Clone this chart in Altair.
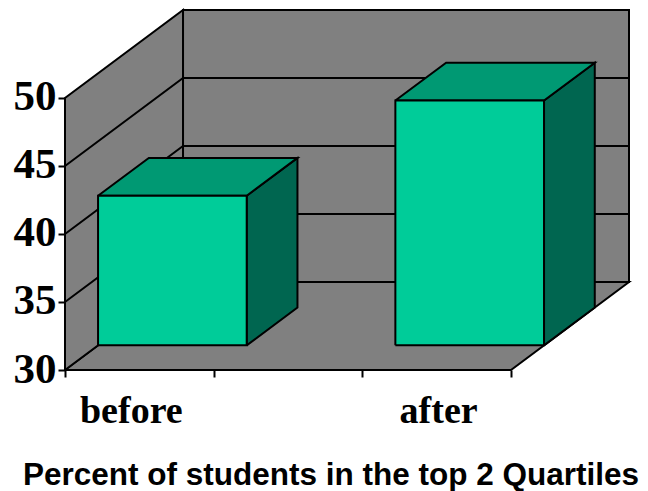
import altair as alt
import pandas as pd

# --- values ---
slots = ["before", "", "after"]
values = [41, 48]
bar_slots = [0, 2]
bar_labels = ["before", "after"]
y_ticks = [30, 35, 40, 45, 50]
x_ticks = [0, 1, 2, 3]
title_text = "Percent of students in the top 2 Quartiles"

# oblique 3D projection settings (in data units)
DX = 0.794   # depth shift in slots
DY = 6.47    # depth shift in value units
D0, D1 = 0.28, 0.71
Y_MIN, Y_MAX = 30, 50
GRAY, FACE, TOP, SIDE = "#808080", "#00CC99", "#009973", "#006650"
LW = 2


def P(x, v, d):
    return (x + d * DX, v + d * DY)


def face(name, pts, rows):
    pts = list(pts) + [pts[0]]
    for i, (x, v, d) in enumerate(pts):
        px, py = P(x, v, d)
        rows.append({"f": name, "i": i, "x": px, "y": py})


polys, lines = [], []
n = len(slots)
face("floor", [(0, 30, 0), (n, 30, 0), (n, 30, 1), (0, 30, 1)], polys)
face("left", [(0, 30, 0), (0, 30, 1), (0, 50, 1), (0, 50, 0)], polys)
face("back", [(0, 30, 1), (n, 30, 1), (n, 50, 1), (0, 50, 1)], polys)
for t in y_ticks[1:-1]:
    pts = [(0, t, 0), (0, t, 1), (n, t, 1)]
    for i, (x, v, d) in enumerate(pts):
        px, py = P(x, v, d)
        lines.append({"f": f"g{t}", "i": i, "x": px, "y": py})

x_dom = [0, n + DX]
y_dom = [Y_MIN, Y_MAX + DY]
X = alt.X("x:Q", scale=alt.Scale(domain=x_dom, nice=False, zero=False),
          axis=alt.Axis(values=x_ticks, labels=False, title=None, grid=False,
                        domain=False, ticks=True, tickColor="black", tickWidth=LW, tickSize=7))
Y = alt.Y("y:Q", scale=alt.Scale(domain=y_dom, nice=False, zero=False),
          axis=alt.Axis(values=y_ticks, title=None, grid=False, domain=False, ticks=True,
                        tickColor="black", tickWidth=LW, tickSize=7, labelFont="Liberation Serif",
                        labelFontWeight="bold", labelFontSize=43, labelColor="black", labelPadding=2,
                        labelOffset=-1, format="d"))


def poly_layer(rows, fill):
    return alt.Chart(pd.DataFrame(rows)).mark_line(
        fill=fill, stroke="black", strokeWidth=LW, strokeJoin="miter", clip=False
    ).encode(x=X, y=Y, order="i:Q", detail="f:N")


layers = [poly_layer(polys, GRAY)]
layers.append(alt.Chart(pd.DataFrame(lines)).mark_line(
    stroke="black", strokeWidth=LW).encode(x=X, y=Y, order="i:Q", detail="f:N"))

for s, v, lab in zip(bar_slots, values, bar_labels):
    f, t, sd = [], [], []
    face(lab + "s", [(s + 1, 30, D0), (s + 1, 30, D1), (s + 1, v, D1), (s + 1, v, D0)], sd)
    face(lab + "t", [(s, v, D0), (s + 1, v, D0), (s + 1, v, D1), (s, v, D1)], t)
    face(lab + "f", [(s, 30, D0), (s + 1, 30, D0), (s + 1, v, D0), (s, v, D0)], f)
    layers += [poly_layer(sd, SIDE), poly_layer(t, TOP), poly_layer(f, FACE)]

# front-floor edge
edge = pd.DataFrame({"x": [0, n], "y": [30, 30], "i": [0, 1]})
layers.append(alt.Chart(edge).mark_line(stroke="black", strokeWidth=LW).encode(x=X, y=Y, order="i:Q"))

labels = pd.DataFrame({"x": [s + 0.5 for s in bar_slots], "y": [30, 30], "t": bar_labels,
                       "dx": [-8, 2]})
for _, r in labels.iterrows():
    layers.append(alt.Chart(pd.DataFrame([r.to_dict()])).mark_text(
        font="Liberation Serif", fontWeight="bold", fontSize=38, color="black",
        baseline="alphabetic", dy=53, dx=float(r["dx"]), align="center"
    ).encode(x=X, y=Y, text="t:N"))

title_df = pd.DataFrame({"x": [n / 2], "y": [30], "t": [title_text]})
layers.append(alt.Chart(title_df).mark_text(
    font="Liberation Sans", fontWeight="bold", fontSize=31.5, color="black",
    baseline="alphabetic", dy=115, dx=43, align="center"
).encode(x=X, y=Y, text="t:N"))

chart = alt.layer(*layers).properties(
    width=564, height=360,
    padding={"left": 57, "top": 2, "right": 11, "bottom": 121},
    autosize=alt.AutoSizeParams(type="none"),
    background="white",
).configure_view(stroke=None)

chart.save("out.html", embed_options={"renderer": "svg", "actions": False})
